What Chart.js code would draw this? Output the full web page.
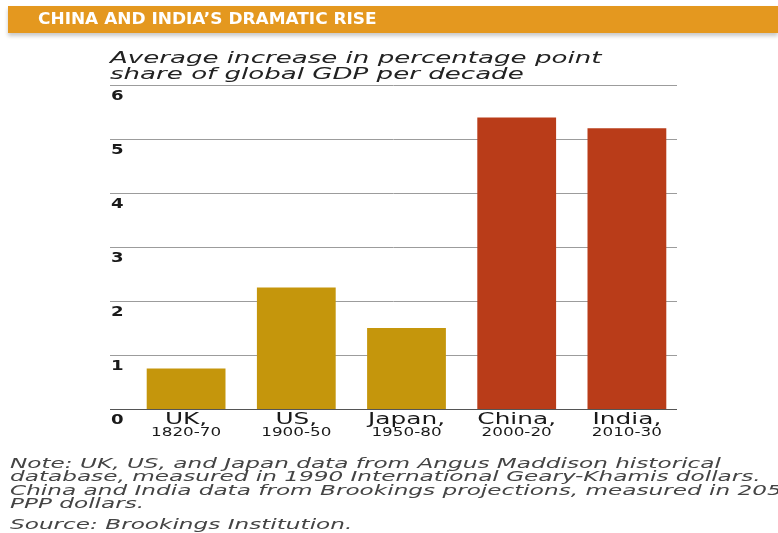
<!DOCTYPE html>
<html>
<head>
<meta charset="utf-8">
<script src="https://cdn.jsdelivr.net/npm/chart.js@4/dist/chart.umd.min.js"></script>
<style>
  html, body { margin: 0; padding: 0; background: #fff; }
  body { width: 778px; height: 533px; position: relative; overflow: hidden; font-family: "DejaVu Sans", sans-serif; }
  #grafica { position: absolute; left: 0; top: 0; }
  .bandeau { position: absolute; left: 8px; top: 6px; width: 770px; height: 27px; background: #e4981f;
             box-shadow: 0 3px 4px rgba(0,0,0,0.22); z-index: 2; }
  .bandeau span { position: absolute; left: 30px; top: 4px; color: #fff; font-weight: bold; font-size: 15px;
                  white-space: pre; transform: scaleX(1.13); transform-origin: 0 0; line-height: 19px; }
  .sous-titre { position: absolute; left: 110px; top: 50px; font-size: 16.5px; font-style: italic; color: #222;
                line-height: 16px; white-space: pre; transform: scaleX(1.58); transform-origin: 0 0; z-index: 2; }
  .notes { position: absolute; left: 10px; top: 457px; font-size: 13.4px; font-style: italic; color: #444;
           line-height: 13.4px; white-space: pre; transform: scaleX(1.73); transform-origin: 0 0; z-index: 2; }
  .source { margin-top: 7px; }
</style>
</head>
<body>
<div class="bandeau"><span>CHINA AND INDIA’S DRAMATIC RISE</span></div>
<div class="sous-titre">Average increase in percentage point
share of global GDP per decade</div>
<div class="notes">Note: UK, US, and Japan data from Angus Maddison historical
database, measured in 1990 International Geary-Khamis dollars.
China and India data from Brookings projections, measured in 2055
PPP dollars.
<div class="source">Source: Brookings Institution.</div></div>
<canvas id="grafica" width="778" height="533"></canvas>

<script>
// Données du graphique
const pays = ["UK,", "US,", "Japan,", "China,", "India,"];
const periodes = ["1820-70", "1900-50", "1950-80", "2000-20", "2010-30"];
const hausseMoyenne = [0.75, 2.25, 1.5, 5.4, 5.2];
const graduations = [0, 1, 2, 3, 4, 5, 6];

const couleursBarres = ["#c5960c", "#c5960c", "#c5960c", "#b93c19", "#b93c19"];

// texte étiré horizontalement, comme dans l'original
function texteEtire(ctx, texte, x, y, etirement) {
  ctx.save();
  ctx.translate(x, y);
  ctx.scale(etirement, 1);
  ctx.fillText(texte, 0, 0);
  ctx.restore();
}

const grilleEtEtiquettes = {
  id: "grilleEtEtiquettes",
  beforeDatasetsDraw(chart) {
    const { ctx, scales: { y } } = chart;
    ctx.save();
    ctx.strokeStyle = "#9c9c9c";
    ctx.lineWidth = 1;
    graduations.forEach((v) => {
      if (v === 0) return;
      const py = Math.round(y.getPixelForValue(v)) + 0.5;
      ctx.beginPath();
      ctx.moveTo(110, py);
      ctx.lineTo(677, py);
      ctx.stroke();
    });
    ctx.restore();
  },
  afterDatasetsDraw(chart) {
    const { ctx, scales: { x, y } } = chart;
    ctx.save();
    // ligne du zéro
    const y0 = Math.round(y.getPixelForValue(0)) + 0.5;
    ctx.strokeStyle = "#555";
    ctx.lineWidth = 1.2;
    ctx.beginPath();
    ctx.moveTo(110, y0);
    ctx.lineTo(677, y0);
    ctx.stroke();

    // étiquettes de l'axe vertical, sous chaque ligne
    ctx.fillStyle = "#1a1a1a";
    ctx.font = "bold 14.5px 'DejaVu Sans'";
    ctx.textAlign = "left";
    ctx.textBaseline = "middle";
    graduations.forEach((v) => {
      texteEtire(ctx, String(v), 111, y.getPixelForValue(v) + 11, 1.25);
    });

    // étiquettes des catégories
    ctx.textAlign = "center";
    ctx.textBaseline = "alphabetic";
    pays.forEach((nom, i) => {
      const cx = x.getPixelForValue(i);
      ctx.font = "15.5px 'DejaVu Sans'";
      texteEtire(ctx, nom, cx, 424, 1.6);
      ctx.font = "11.5px 'DejaVu Sans'";
      texteEtire(ctx, periodes[i], cx, 436, 1.46);
    });
    ctx.restore();
  }
};

new Chart(document.getElementById("grafica"), {
  type: "bar",
  data: {
    labels: pays,
    datasets: [
      {
        data: hausseMoyenne,
        backgroundColor: couleursBarres,
        borderWidth: 0,
        categoryPercentage: 1,
        barPercentage: 0.715,
      },
    ],
  },
  options: {
    responsive: false,
    animation: false,
    layout: { padding: { left: 131, right: 96, top: 85, bottom: 124 } },
    plugins: { legend: { display: false }, tooltip: { enabled: false } },
    scales: {
      x: { display: false, offset: true },
      y: { display: false, min: 0, max: 6 },
    },
  },
  plugins: [grilleEtEtiquettes],
});
</script>
</body>
</html>
